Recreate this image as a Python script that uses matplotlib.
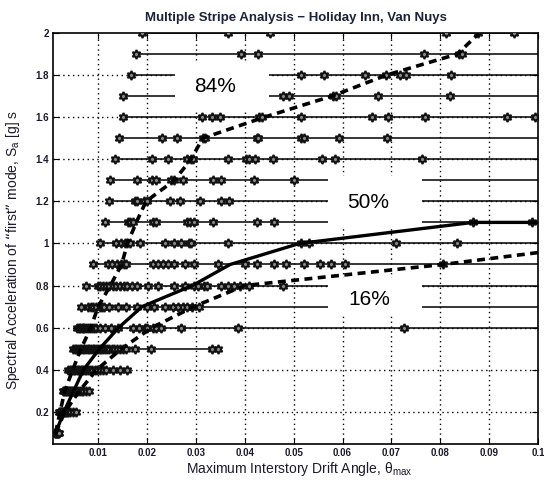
import matplotlib
matplotlib.use('Agg')
import matplotlib.pyplot as plt
from matplotlib.patches import Rectangle
from matplotlib.ticker import FuncFormatter, FixedLocator

plt.rcParams['font.family'] = ['Liberation Sans', 'DejaVu Sans']
plt.rcParams['mathtext.default'] = 'regular'

# ---------------- data ----------------
stripe_sa = [0.1, 0.2, 0.3, 0.4, 0.5, 0.6, 0.7, 0.8, 0.9, 1.0,
             1.1, 1.2, 1.3, 1.4, 1.5, 1.6, 1.7, 1.8, 1.9, 2.0]

drift_01 = [0.0011, 0.0012, 0.0013, 0.0014, 0.0015, 0.0016, 0.0017, 0.0018, 0.0020]
drift_02 = [0.0020, 0.0021, 0.0022, 0.0024, 0.0025, 0.0026, 0.0028, 0.0030, 0.0032,
            0.0034, 0.0036, 0.0039, 0.0043, 0.0048, 0.0055]
drift_03 = [0.0028, 0.0030, 0.0032, 0.0034, 0.0036, 0.0038, 0.0040, 0.0042, 0.0044,
            0.0046, 0.0049, 0.0052, 0.0055, 0.0058, 0.0062, 0.0066, 0.0070, 0.0076, 0.0082]
drift_04 = [0.0038, 0.0042, 0.0045, 0.0048, 0.0050, 0.0053, 0.0056, 0.0058, 0.0061,
            0.0064, 0.0067, 0.0070, 0.0073, 0.0076, 0.0080, 0.0084, 0.0088, 0.0093,
            0.0098, 0.0104, 0.0110, 0.0116, 0.0130, 0.0144, 0.0160]
drift_05 = [0.0048, 0.0052, 0.0055, 0.0059, 0.0062, 0.0065, 0.0068, 0.0072, 0.0075,
            0.0079, 0.0082, 0.0085, 0.0089, 0.0092, 0.0096, 0.0099, 0.0103, 0.0106,
            0.0110, 0.0114, 0.0118, 0.0123, 0.0128, 0.0133, 0.0138, 0.0144, 0.0150,
            0.0157, 0.0175, 0.0208, 0.0332, 0.0345]
drift_06 = [0.0056, 0.0060, 0.0063, 0.0066, 0.0069, 0.0072, 0.0076, 0.0079, 0.0083,
            0.0087, 0.0091, 0.0096, 0.0104, 0.0113, 0.0126, 0.0141, 0.0171, 0.0184,
            0.0195, 0.0200, 0.0212, 0.0219, 0.0229, 0.0270, 0.0386, 0.0725]
drift_07 = [0.0065, 0.0080, 0.0085, 0.0090, 0.0095, 0.0103, 0.0108, 0.0112, 0.0123,
            0.0140, 0.0157, 0.0180, 0.0200, 0.0214, 0.0236, 0.0253, 0.0263, 0.0273,
            0.0282, 0.0293, 0.0307]
drift_08 = [0.0075, 0.0099, 0.0104, 0.0110, 0.0116, 0.0122, 0.0130, 0.0137, 0.0144,
            0.0152, 0.0160, 0.0170, 0.0180, 0.0201, 0.0222, 0.0256, 0.0278, 0.0297,
            0.0304, 0.0316, 0.0323, 0.0352, 0.0366, 0.0378, 0.0390, 0.0408, 0.0478]
drift_09 = [0.0089, 0.0121, 0.0128, 0.0139, 0.0146, 0.0152, 0.0157, 0.0212, 0.0222,
            0.0232, 0.0242, 0.0256, 0.0278, 0.0297, 0.0345, 0.0400, 0.0424, 0.0460,
            0.0485, 0.0522, 0.0553, 0.0576, 0.0606, 0.0805]
drift_10 = [0.0103, 0.0137, 0.0147, 0.0155, 0.0160, 0.0166, 0.0186, 0.0236, 0.0255,
            0.0270, 0.0285, 0.0289, 0.0366, 0.0516, 0.0532, 0.0710, 0.0835]
drift_11 = [0.0114, 0.0161, 0.0166, 0.0171, 0.0212, 0.0219, 0.0281, 0.0287, 0.0296,
            0.0335, 0.0424, 0.0459, 0.0867, 0.0987]
drift_12 = [0.0123, 0.0175, 0.0180, 0.0193, 0.0200, 0.0248, 0.0268, 0.0309, 0.0351, 0.0367]
drift_13 = [0.0124, 0.0180, 0.0211, 0.0219, 0.0250, 0.0255, 0.0273, 0.0336, 0.0351,
            0.0418, 0.0501]
drift_14 = [0.0135, 0.0211, 0.0242, 0.0281, 0.0289, 0.0295, 0.0366, 0.0403, 0.0409,
            0.0420, 0.0458, 0.0558, 0.0584, 0.0763]
drift_15 = [0.0142, 0.0231, 0.0262, 0.0315, 0.0318, 0.0424, 0.0428, 0.0516, 0.0521,
            0.0592, 0.0692]
drift_16 = [0.0150, 0.0312, 0.0332, 0.0349, 0.0430, 0.0435, 0.0516, 0.0660, 0.0693,
            0.0769, 0.0937, 0.0993]
drift_17 = [0.0151, 0.0478, 0.0490, 0.0580, 0.0587, 0.0672, 0.0819]
drift_18 = [0.0168, 0.0516, 0.0563, 0.0647, 0.0688, 0.0717, 0.0729, 0.0822]
drift_19 = [0.0178, 0.0393, 0.0428, 0.0766, 0.0839, 0.0845]
drift_20 = [0.0189, 0.0366, 0.0451, 0.0812, 0.0878, 0.0951]

stripe_drifts = [drift_01, drift_02, drift_03, drift_04, drift_05, drift_06, drift_07,
                 drift_08, drift_09, drift_10, drift_11, drift_12, drift_13, drift_14,
                 drift_15, drift_16, drift_17, drift_18, drift_19, drift_20]
# stripes that contain collapsed records (line continues beyond plotted range)
has_collapse = [False, False, False, False, False] + [True] * 15

# fractile curves
frac_sa = [0.1, 0.2, 0.3, 0.4, 0.5, 0.6, 0.7, 0.8, 0.9, 1.0,
           1.1, 1.2, 1.3, 1.4, 1.5, 1.6, 1.7, 1.8, 1.9, 2.0]
frac84 = [0.0013, 0.0022, 0.0032, 0.0048, 0.0065, 0.0085, 0.0100, 0.0125, 0.0148, 0.0160,
          0.0178, 0.0198, 0.0256, 0.0290, 0.0314, 0.0440, 0.0578, 0.0690, 0.0835, 0.0880]
median_sa = [0.1, 0.2, 0.3, 0.4, 0.5, 0.6, 0.7, 0.8, 0.9, 1.0, 1.1, 1.1]
frac50 = [0.0013, 0.0030, 0.0050, 0.0070, 0.0103, 0.0142, 0.0190, 0.0293, 0.0370,
          0.0512, 0.0867, 0.1000]
frac16_sa = [0.1, 0.2, 0.3, 0.4, 0.5, 0.6, 0.7, 0.8, 0.9, 1.0]
frac16 = [0.0013, 0.0032, 0.0062, 0.0097, 0.0148, 0.0210, 0.0296, 0.0400, 0.0805, 0.1150]

x_ticks = [0.01, 0.02, 0.03, 0.04, 0.05, 0.06, 0.07, 0.08, 0.09, 0.1]
y_ticks = [0.2, 0.4, 0.6, 0.8, 1.0, 1.2, 1.4, 1.6, 1.8, 2.0]

labels = ['84%', '50%', '16%']

# ---------------- figure ----------------
W, H = 544, 483
fig = plt.figure(figsize=(W / 100, H / 100), dpi=100)
ax = fig.add_axes([53 / W, 1 - 444 / H, (538 - 53) / W, (444 - 33) / H])
xmin, xmax = 0.00076, 0.1
ax.set_xlim(xmin, xmax)
ax.set_ylim(0.047, 2.0)

# grid (MATLAB-like dotted)
for xt in x_ticks[:-1]:
    ax.axvline(xt, color='black', lw=1.0, ls=(0, (1, 2.5)), zorder=1)
for yt in y_ticks[:-1]:
    ax.axhline(yt, color='black', lw=1.0, ls=(0, (1, 2.5)), zorder=1)

# stripes
for sa, d, col in zip(stripe_sa, stripe_drifts, has_collapse):
    right = xmax if col else max(d)
    ax.plot([min(d), right], [sa, sa], color='black', lw=1.1, zorder=2)
    ax.plot(d, [sa] * len(d), ls='none', marker=(6, 1, 0), ms=6.5, mfc='#8a8a8a',
            mec='#111111', mew=1.4, zorder=3)

# fractiles
ax.plot(frac84, frac_sa, color='black', lw=2.6, ls=(0, (2.2, 1.5)), zorder=4)
ax.plot(frac50, median_sa, color='black', lw=2.4, ls='-', zorder=4)
ax.plot(frac16, frac16_sa, color='black', lw=2.6, ls=(0, (2.2, 1.5)), zorder=4)

# label boxes
boxes = [(0.0257, 1.635, 0.0449, 1.865, 0.0340, 1.745),
         (0.0570, 1.085, 0.0762, 1.320, 0.0653, 1.195),
         (0.0570, 0.655, 0.0762, 0.835, 0.0654, 0.734)]
for lab, (x0, y0, x1, y1, tx, ty) in zip(labels, boxes):
    ax.add_patch(Rectangle((x0, y0), x1 - x0, y1 - y0, facecolor='white',
                           edgecolor='none', zorder=5))
    ax.text(tx, ty, lab, fontsize=15, ha='center', va='center', zorder=6)

# ticks
ax.xaxis.set_major_locator(FixedLocator(x_ticks))
ax.yaxis.set_major_locator(FixedLocator(y_ticks))
ax.xaxis.set_major_formatter(FuncFormatter(lambda v, p: '%g' % v))
ax.yaxis.set_major_formatter(FuncFormatter(lambda v, p: '%g' % v))
ax.tick_params(direction='in', length=4, width=0.8, top=True, right=True,
               labelsize=7, pad=3)
for lbl in ax.get_xticklabels() + ax.get_yticklabels():
    lbl.set_fontweight('bold')
    lbl.set_color('#1a1a2a')
for sp in ax.spines.values():
    sp.set_linewidth(1.2)

fig.text(296 / W, 1 - 18 / H, 'Multiple Stripe Analysis \u2212 Holiday Inn, Van Nuys',
         ha='center', va='center', fontsize=9.5, fontweight='bold', color='#1c2238')
fig.text(299 / W, 1 - 469 / H, r'Maximum Interstory Drift Angle, $\theta_{max}$',
         ha='center', va='center', fontsize=10, color='#1a1a2a')
fig.text(13 / W, 1 - 250 / H, 'Spectral Acceleration of \u201cfirst\u201d mode, $S_a$ [g] s',
         ha='center', va='center', rotation=90, fontsize=10, color='#1a1a2a')

fig.savefig('out.png', dpi=100)
